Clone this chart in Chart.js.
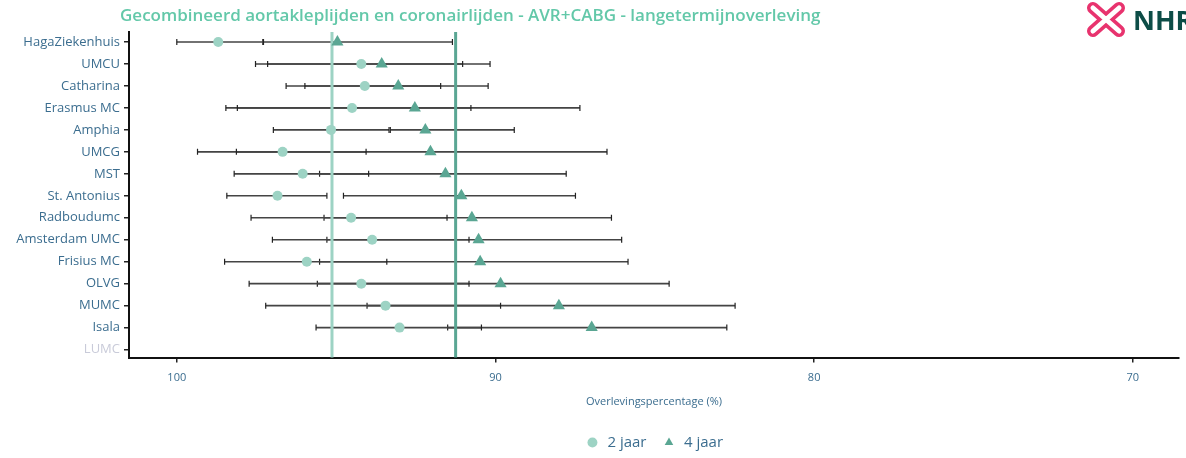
<!DOCTYPE html>
<html>
<head>
<meta charset="utf-8">
<script src="https://cdn.jsdelivr.net/npm/chart.js@4/dist/chart.umd.min.js"></script>
<style>
html,body{margin:0;padding:0;background:#fff}
</style>
</head>
<body>
<canvas id="graficoOverleving" width="1186" height="458"></canvas>
<script>

let titel='Gecombineerd aortakleplijden en coronairlijden - AVR+CABG - langetermijnoverleving'

let ziekenhuizen=['HagaZiekenhuis','UMCU','Catharina','Erasmus MC','Amphia','UMCG','MST','St. Antonius','Radboudumc','Amsterdam UMC','Frisius MC','OLVG','MUMC','Isala','LUMC']

let overleving2jaar=[98.70,94.21,94.10,94.50,95.16,96.68,96.05,96.84,94.53,93.87,95.92,94.21,93.45,93.01,null]
let boven2jaar=[100,97.15,95.98,98.10,96.97,98.13,98.20,98.43,97.67,97.00,98.50,97.73,97.21,95.63,null]
let onder2jaar=[97.28,91.03,91.72,90.77,93.34,94.06,93.98,95.29,91.52,90.83,93.41,90.83,89.84,90.44,null]

let overleving4jaar=[94.96,93.57,93.05,92.53,92.20,92.04,91.57,91.07,90.74,90.53,90.48,89.84,88.01,86.98,null]
let boven4jaar=[97.30,97.53,96.57,98.46,93.30,99.35,95.52,94.77,95.38,95.29,95.52,95.59,94.03,91.50,null]
let onder4jaar=[91.35,90.17,90.23,87.35,89.41,86.50,87.78,87.49,86.36,86.04,85.84,84.55,82.48,82.74,null]

let gemiddelde2jaar=95.13
let gemiddelde4jaar=91.25

let xTicks=[100,90,80,70]

let kleurTekst='#3b6d8f'
let kleur2jaar='#9dd3c4'
let kleur4jaar='#5aa693'

function puntenReeks(waarden){
let pts=[]
waarden.forEach((v,i)=>{
if(v!=null)pts.push({x:v,y:i})
})
return pts
}

function foutbalken(boven,onder){
let pts=[]
boven.forEach((b,i)=>{
if(b==null)return
pts.push({x:b,y:i},{x:onder[i],y:i},{x:null,y:i})
})
return pts
}

function verticaleLijn(waarde){
return [{x:waarde,y:-0.5},{x:waarde,y:ziekenhuizen.length}]
}

let titelPlugin={
id:'titel',
afterLayout(chart){
// legenda centreren onder het plotgebied, net als in het origineel
let l=chart.legend
let a=chart.chartArea
let shift=(a.left+a.right)/2-(l.left+l.right)/2
l.left+=shift
l.right+=shift
l.top+=2
l.bottom+=2
},
afterDraw(chart){
let c=chart.ctx
c.save()
c.font='600 17px "Open Sans"'
c.fillStyle='#63c8a9'
c.textBaseline='middle'
c.fillText(titel,120,16)

// logo rechtsboven
c.lineCap='round'
c.strokeStyle='#e8336e'
c.lineWidth=12
c.beginPath()
c.moveTo(1093,8);c.lineTo(1119,31)
c.moveTo(1119,8);c.lineTo(1093,31)
c.stroke()
c.strokeStyle='#fff'
c.lineWidth=5
c.stroke()
c.font='bold 27px "Open Sans"'
c.fillStyle='#0d4d47'
c.textBaseline='alphabetic'
c.fillText('NHR',1133,30)
c.restore()
}
}

let lijnStijl={
showLine:true,
borderColor:'#444',
borderWidth:1.6,
pointStyle:'line',
pointRotation:90,
pointRadius:3,
pointBorderColor:'#222',
pointBorderWidth:1.2,
spanGaps:false,
order:2
}

let grafico=new Chart(document.getElementById('graficoOverleving'),{
type:'scatter',
data:{
datasets:[
{
label:'2 jaar',
data:puntenReeks(overleving2jaar),
pointStyle:'circle',
pointRadius:5,
backgroundColor:kleur2jaar,
borderColor:kleur2jaar,
pointBorderWidth:0,
order:0
},
{
label:'4 jaar',
data:puntenReeks(overleving4jaar),
pointStyle:'triangle',
pointRadius:7,
backgroundColor:kleur4jaar,
borderColor:kleur4jaar,
pointBorderWidth:0,
order:0
},
{
label:'gem2',
data:verticaleLijn(gemiddelde2jaar),
showLine:true,
borderColor:kleur2jaar,
borderWidth:3,
pointRadius:0,
order:1
},
{
label:'gem4',
data:verticaleLijn(gemiddelde4jaar),
showLine:true,
borderColor:kleur4jaar,
borderWidth:3,
pointRadius:0,
order:1
},
{label:'ci2',data:foutbalken(boven2jaar,onder2jaar),...lijnStijl},
{label:'ci4',data:foutbalken(boven4jaar,onder4jaar),...lijnStijl}
]
},
options:{
responsive:false,
animation:false,
events:[],
layout:{padding:{top:32,right:3,left:0,bottom:0}},
scales:{
x:{
type:'linear',
reverse:true,
min:68.55,
max:101.5,
afterBuildTicks:s=>{s.ticks=xTicks.map(v=>({value:v}))},
ticks:{color:kleurTekst,font:{family:'Open Sans',size:11},padding:9},
grid:{drawOnChartArea:false,tickLength:5,color:'#222',lineWidth:1.5},
border:{color:'#111',width:2},
title:{display:true,text:'Overlevingspercentage (%)',color:kleurTekst,font:{family:'Open Sans',size:11},padding:{top:1,bottom:10}}
},
y:{
type:'linear',
reverse:true,
min:-0.456,
max:14.365,
afterBuildTicks:s=>{s.ticks=ziekenhuizen.map((n,i)=>({value:i}))},
afterFit:s=>{s.width=129},
ticks:{
callback:(v,i)=>ziekenhuizen[i],
color:ctx=>ctx.index==ziekenhuizen.length-1?'#c9cbd9':kleurTekst,
font:{family:'Open Sans',size:13},
padding:4
},
grid:{drawOnChartArea:false,tickLength:5,color:'#222',lineWidth:1.5},
border:{color:'#111',width:2}
}
},
plugins:{
legend:{
position:'bottom',
labels:{
filter:item=>item.text=='2 jaar'||item.text=='4 jaar',
usePointStyle:true,
boxWidth:15,
boxHeight:7,
padding:15,
color:kleurTekst,
font:{family:'Open Sans',size:15}
}
},
tooltip:{enabled:false}
}
},
plugins:[titelPlugin]
})

</script>
</body>
</html>
